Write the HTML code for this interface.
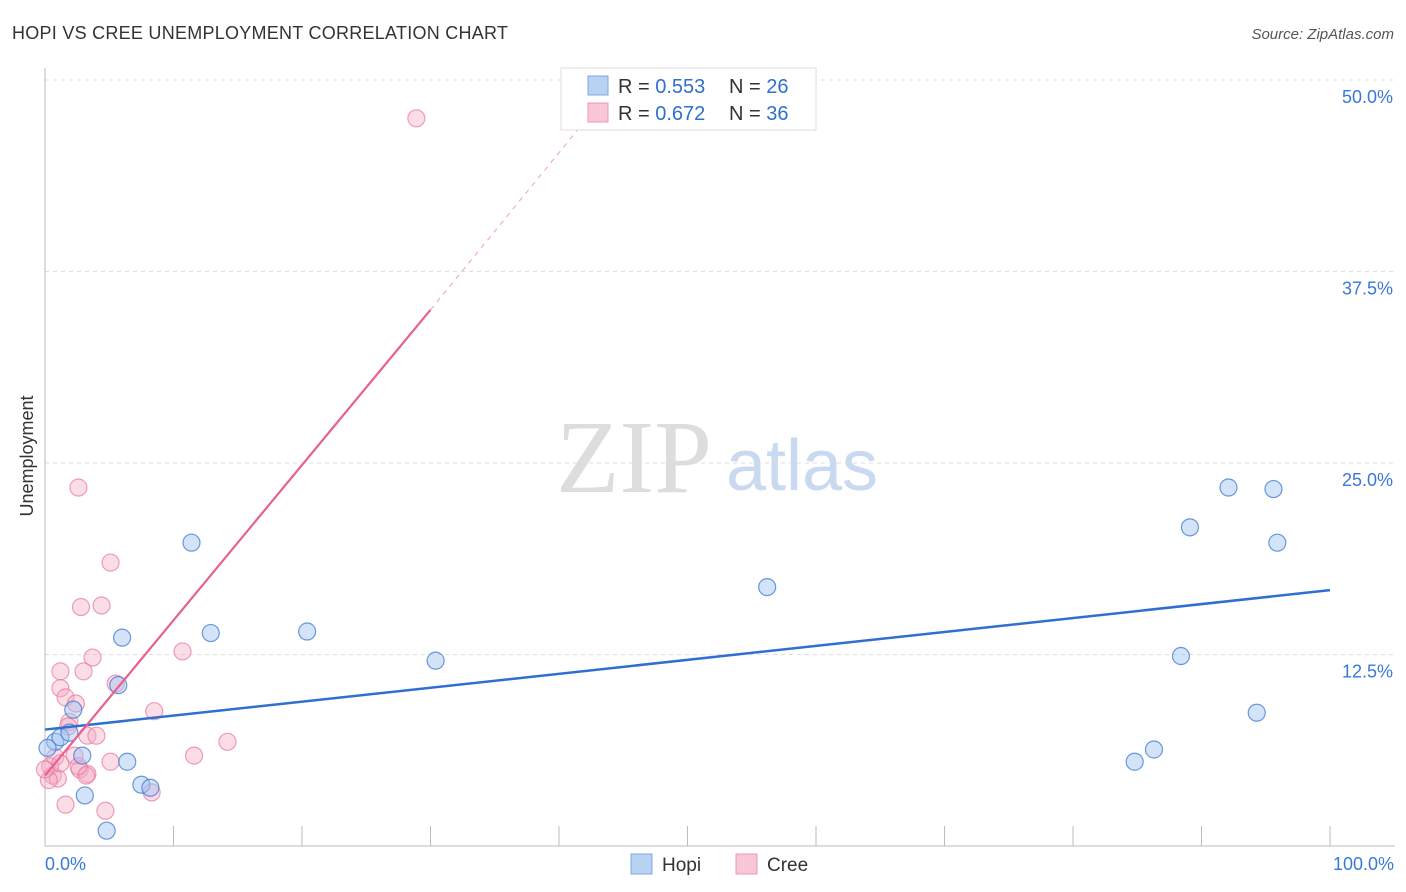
<!DOCTYPE html>
<html><head><meta charset="utf-8"><style>
body{margin:0;background:#fff;font-family:"Liberation Sans",sans-serif;}
svg{display:block}
</style></head><body>
<svg id="chart" width="1406" height="892">
<text x="12" y="39" font-size="18" fill="#333" textLength="496">HOPI VS CREE UNEMPLOYMENT CORRELATION CHART</text>
<text x="1394" y="39" font-size="15" fill="#555" font-style="italic" text-anchor="end">Source: ZipAtlas.com</text>
<g>
<text x="634" y="492" font-size="104" fill="#ddd" font-family="Liberation Serif" text-anchor="middle">ZIP</text>
<text x="802" y="490" font-size="72" fill="#c9d9f0" text-anchor="middle">atlas</text>
</g>
<g id="grid"></g>
<g id="axes"></g>
<g id="marks"></g>
<g>
<rect x="561" y="68" width="255" height="62" fill="#fff" stroke="#ddd"/>
<rect x="588" y="76" width="20" height="19" fill="#b8d2f4" stroke="#7fa8e0"/>
<rect x="588" y="103" width="20" height="19" fill="#f9c6d5" stroke="#ef97b2"/>
<text x="618" y="93" font-size="20" fill="#333">R = <tspan fill="#2f6fd0">0.553</tspan></text>
<text x="729" y="93" font-size="20" fill="#333">N = <tspan fill="#2f6fd0">26</tspan></text>
<text x="618" y="120" font-size="20" fill="#333">R = <tspan fill="#2f6fd0">0.672</tspan></text>
<text x="729" y="120" font-size="20" fill="#333">N = <tspan fill="#2f6fd0">36</tspan></text>
</g>
<text transform="translate(33,456) rotate(-90)" font-size="18" fill="#333" text-anchor="middle">Unemployment</text>
<text x="45" y="870" font-size="18" fill="#3a78d8">0.0%</text>
<text x="1394" y="870" font-size="18" fill="#3a78d8" text-anchor="end">100.0%</text>
<g>
<rect x="631" y="854" width="21" height="20" fill="#b8d2f4" stroke="#7fa8e0"/>
<text x="662" y="871" font-size="19" fill="#333">Hopi</text>
<rect x="736" y="854" width="21" height="20" fill="#f9c6d5" stroke="#ef97b2"/>
<text x="767" y="871" font-size="19" fill="#333">Cree</text>
</g>
</svg>
<script>
const yTicks=[12.5,25,37.5,50];
const yTickLabels=["12.5%","25.0%","37.5%","50.0%"];
const xTicks=[0,10,20,30,40,50,60,70,80,90,100];
const hopiX=[11.4,6.0,12.9,20.4,30.4,56.2,92.1,95.6,89.1,95.9,88.4,94.3,86.3,84.8,5.7,2.2,0.8,1.2,2.9,6.4,3.1,7.5,8.2,4.8,0.2,1.9];
const hopiY=[19.8,13.6,13.9,14.0,12.1,16.9,23.4,23.3,20.8,19.8,12.4,8.7,6.3,5.5,10.5,8.9,6.8,7.1,5.9,5.5,3.3,4.0,3.8,1.0,6.4,7.4];
const creeX=[28.9,2.6,5.1,2.8,4.4,3.7,10.7,1.2,3.0,1.2,1.6,2.4,5.5,1.9,1.8,8.5,14.2,11.6,3.3,2.3,5.1,0.8,0.4,0.6,2.7,3.3,1.0,0.3,1.6,4.7,8.3,1.2,3.2,4.0,0,2.6];
const creeY=[47.5,23.4,18.5,15.6,15.7,12.3,12.7,11.4,11.4,10.3,9.7,9.3,10.6,8.1,7.8,8.8,6.8,5.9,7.2,5.9,5.5,5.8,5.2,4.6,5.0,4.7,4.4,4.3,2.7,2.3,3.5,5.4,4.6,7.2,5.0,5.2];
const hopiTrend=[[0,7.6],[100,16.7]];
const creeTrend=[[0,4.6],[30,35.0]];
const creeTrendExt=[[30,35.0],[41.6,46.9]];
const NS="http://www.w3.org/2000/svg";
const sx=v=>45+v*12.85, sy=v=>846-v*15.32;
function mk(parent,tag,attrs){const e=document.createElementNS(NS,tag);for(const k in attrs)e.setAttribute(k,attrs[k]);document.getElementById(parent).appendChild(e);return e;}
yTicks.forEach((t,i)=>{
 const g=mk('grid','line',{x1:45,x2:1395,y1:sy(t),y2:sy(t),stroke:'#ddd','stroke-dasharray':'4,4'});
 
 
 const l=mk('grid','text',{x:1393,y:sy(t)+23,'font-size':18,fill:'#3a78d8','text-anchor':'end'});
 l.textContent=yTickLabels[i];
 
 
});
const ya=mk('axes','line',{x1:45,x2:45,y1:68,y2:846,stroke:'#bbb'});


const xa=mk('axes','line',{x1:45,x2:1395,y1:846,y2:846,stroke:'#bbb'});


xTicks.forEach(t=>{
 const k=mk('axes','line',{x1:sx(t),x2:sx(t),y1:826,y2:846,stroke:'#bbb'});
 
 
});
function dots(xs,ys,fill,stroke,name){xs.forEach((x,i)=>{
 const c=mk('marks','circle',{cx:sx(x),cy:sy(ys[i]),r:8.5,fill:fill,stroke:stroke,'stroke-width':1.2});
 
 
});}
dots(creeX,creeY,'rgba(246,170,195,0.4)','rgba(232,120,155,0.7)','cree-point');
dots(hopiX,hopiY,'rgba(160,195,240,0.45)','rgba(60,120,210,0.75)','hopi-point');
const t1=mk('marks','line',{x1:sx(hopiTrend[0][0]),y1:sy(hopiTrend[0][1]),x2:sx(hopiTrend[1][0]),y2:sy(hopiTrend[1][1]),stroke:'#2f6fd0','stroke-width':2.5});


const t2=mk('marks','line',{x1:sx(creeTrend[0][0]),y1:sy(creeTrend[0][1]),x2:sx(creeTrend[1][0]),y2:sy(creeTrend[1][1]),stroke:'#e8608c','stroke-width':2.2});


const t3=mk('marks','line',{x1:sx(creeTrendExt[0][0]),y1:sy(creeTrendExt[0][1]),x2:sx(creeTrendExt[1][0]),y2:sy(creeTrendExt[1][1]),stroke:'#f0a0b8','stroke-width':1,'stroke-dasharray':'5,5'});


</script>
</body></html>
